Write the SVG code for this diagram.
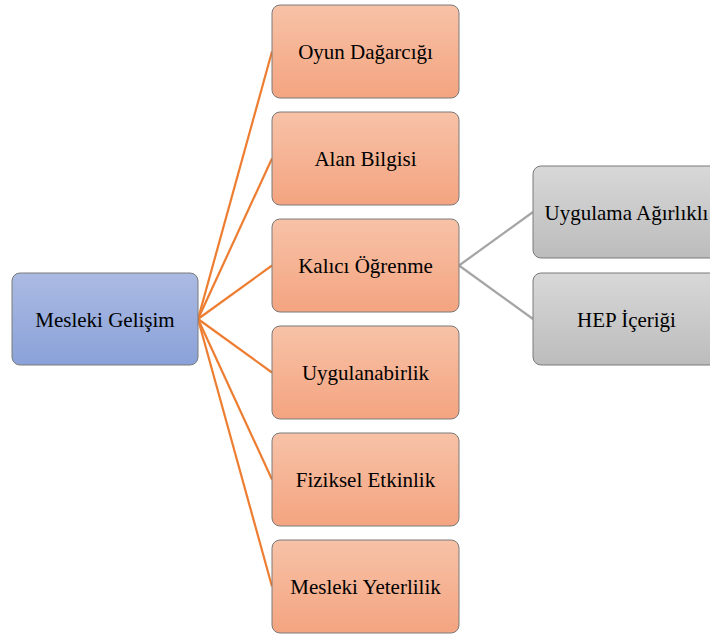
<svg xmlns="http://www.w3.org/2000/svg" width="710" height="637" viewBox="0 0 710 637">
  <defs>
    <linearGradient id="gBlue" x1="0" y1="0" x2="0" y2="1">
      <stop offset="0" stop-color="#abbae2"/>
      <stop offset="1" stop-color="#8aa2d9"/>
    </linearGradient>
    <linearGradient id="gOrange" x1="0" y1="0" x2="0" y2="1">
      <stop offset="0" stop-color="#f7c2a7"/>
      <stop offset="1" stop-color="#f4a480"/>
    </linearGradient>
    <linearGradient id="gGrey" x1="0" y1="0" x2="0" y2="1">
      <stop offset="0" stop-color="#d8d8d8"/>
      <stop offset="1" stop-color="#bcbcbc"/>
    </linearGradient>
  </defs>
  <style>
    .box { stroke: #7a7a7a; stroke-width: 1; }
    .blue { fill: url(#gBlue); }
    .orange { fill: url(#gOrange); }
    .grey { fill: url(#gGrey); }
    text { font-family: 'Liberation Serif', 'DejaVu Serif', serif; font-size: 21px; fill: #000; text-anchor: middle; }
    .cO { stroke: #ed7d31; stroke-width: 2.2; fill: none; }
    .cG { stroke: #a5a5a5; stroke-width: 2.2; fill: none; }
  </style>

  <g id="connectors">
    <line class="cO" x1="198" y1="319" x2="272" y2="51.5"/>
    <line class="cO" x1="198" y1="319" x2="272" y2="158.5"/>
    <line class="cO" x1="198" y1="319" x2="272" y2="265.5"/>
    <line class="cO" x1="198" y1="319" x2="272" y2="372.5"/>
    <line class="cO" x1="198" y1="319" x2="272" y2="479.5"/>
    <line class="cO" x1="198" y1="319" x2="272" y2="586.5"/>
    <line class="cG" x1="459" y1="265.5" x2="533" y2="212"/>
    <line class="cG" x1="459" y1="265.5" x2="533" y2="319"/>
  </g>

  <g id="mesleki-gelisim">
    <rect class="box blue" x="12" y="273" width="186" height="92" rx="8"/>
    <text x="105" y="326.5" font-family="Liberation Serif, serif">Mesleki Gelişim</text>
  </g>

  <g id="oyun-dagarcigi">
    <rect class="box orange" x="272" y="5" width="187" height="93" rx="8"/>
    <text x="365.5" y="59" font-family="Liberation Serif, serif">Oyun Dağarcığı</text>
  </g>
  <g id="alan-bilgisi">
    <rect class="box orange" x="272" y="112" width="187" height="93" rx="8"/>
    <text x="365.5" y="166" font-family="Liberation Serif, serif">Alan Bilgisi</text>
  </g>
  <g id="kalici-ogrenme">
    <rect class="box orange" x="272" y="219" width="187" height="93" rx="8"/>
    <text x="365.5" y="273" font-family="Liberation Serif, serif">Kalıcı Öğrenme</text>
  </g>
  <g id="uygulanabirlik">
    <rect class="box orange" x="272" y="326" width="187" height="93" rx="8"/>
    <text x="365.5" y="380" font-family="Liberation Serif, serif">Uygulanabirlik</text>
  </g>
  <g id="fiziksel-etkinlik">
    <rect class="box orange" x="272" y="433" width="187" height="93" rx="8"/>
    <text x="365.5" y="487" font-family="Liberation Serif, serif">Fiziksel Etkinlik</text>
  </g>
  <g id="mesleki-yeterlilik">
    <rect class="box orange" x="272" y="540" width="187" height="93" rx="8"/>
    <text x="365.5" y="594" font-family="Liberation Serif, serif">Mesleki Yeterlilik</text>
  </g>

  <g id="uygulama-agirlikli">
    <rect class="box grey" x="533" y="166" width="187" height="92" rx="8"/>
    <text x="626.5" y="219.5" font-family="Liberation Serif, serif">Uygulama Ağırlıklı</text>
  </g>
  <g id="hep-icerigi">
    <rect class="box grey" x="533" y="273" width="187" height="92" rx="8"/>
    <text x="626.5" y="326.5" font-family="Liberation Serif, serif">HEP İçeriği</text>
  </g>
</svg>
